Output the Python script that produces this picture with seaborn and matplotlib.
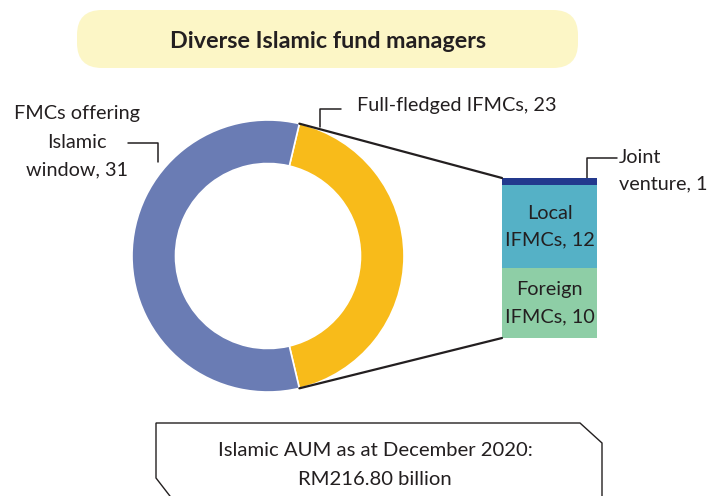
import matplotlib
matplotlib.use("Agg")
import matplotlib.pyplot as plt
import seaborn as sns
import numpy as np
import pandas as pd
from matplotlib.patches import FancyBboxPatch, Polygon, ConnectionPatch

# data
donut_labels = ["Full-fledged IFMCs", "FMCs offering Islamic window"]
donut_values = [23, 31]
bar_labels = ["Foreign IFMCs", "Local IFMCs", "Joint venture"]
bar_values = [10, 12, 1]
title = "Diverse Islamic fund managers"
footer = "Islamic AUM as at December 2020:\nRM216.80 billion"

donut_colors = ["#f8bb1a", "#6a7cb4"]
bar_colors = ["#8ecea6", "#55b1c6", "#23398d"]

sns.set_theme(style="white")
plt.rcParams["font.family"] = ["Lato", "DejaVu Sans"]
TXT = "#231f20"

W, H = 722, 496
fig = plt.figure(figsize=(W / 100, H / 100), dpi=100)


def px_axes(x0, y0, w, h):
    # axes given in pixel coords, y from top
    return fig.add_axes([x0 / W, (H - y0 - h) / H, w / W, h / H])


# overlay for boxes, text and leader lines
over = px_axes(0, 0, W, H)
over.set_xlim(0, W)
over.set_ylim(H, 0)
over.axis("off")

# donut
cx, cy, r = 268, 256, 136
ax_pie = px_axes(cx - r, cy - r, 2 * r, 2 * r)
start = -180 * donut_values[0] / sum(donut_values)
ax_pie.pie(donut_values, colors=donut_colors, startangle=start, counterclock=True,
           radius=1, wedgeprops=dict(width=0.32, edgecolor="white", linewidth=1.2))
ax_pie.set_xlim(-1, 1)
ax_pie.set_ylim(-1, 1)
ax_pie.set_aspect("equal")
ax_pie.axis("off")

# stacked bar (cumulative layers drawn back to front)
ax_bar = px_axes(502, 178, 95, 160)
cum = np.cumsum(bar_values)
for i in range(2, -1, -1):
    sns.barplot(x=["a"], y=[cum[i]], color=bar_colors[i], width=1, ax=ax_bar,
                saturation=1, linewidth=0)
ax_bar.set_xlim(-0.5, 0.5)
ax_bar.set_ylim(0, cum[-1])
ax_bar.axis("off")

# zoom connector lines
ang = np.deg2rad(start + 360 * donut_values[0] / sum(donut_values))
ang0 = np.deg2rad(start)
for a, yb in [(ang, cum[-1]), (ang0, 0)]:
    con = ConnectionPatch(xyA=(np.cos(a), np.sin(a)), coordsA=ax_pie.transData,
                          xyB=(-0.5, yb), coordsB=ax_bar.transData,
                          color="#231f20", lw=1.6)
    fig.add_artist(con)

# bar segment labels
fs = 14.3
ls = 1.68
ax_bar.text(0, bar_values[0] / 2, "Foreign\nIFMCs, 10", ha="center", va="center",
            fontsize=fs, color=TXT, linespacing=ls)
ax_bar.text(0, bar_values[0] + bar_values[1] / 2, "Local\nIFMCs, 12", ha="center",
            va="center", fontsize=fs, color=TXT, linespacing=ls)

# title box
over.add_patch(FancyBboxPatch((77, 10), 501, 58, boxstyle="round,pad=0,rounding_size=25",
                              fc="#fcf6c6", ec="none"))
over.text(328, 41, title, ha="center", va="center", fontsize=16.8, fontweight="bold", color=TXT)

# leader lines
lc = dict(color="#231f20", lw=1.1)
over.plot([128, 158, 158], [143, 143, 162], **lc)
over.plot([320, 320, 341], [127, 109, 109], **lc)
over.plot([587, 587, 617], [178, 158, 158], **lc)

over.text(77, 142, "FMCs offering\nIslamic\nwindow, 31", ha="center", va="center",
          fontsize=fs, color=TXT, linespacing=1.8)
over.text(357, 105, "Full-fledged IFMCs, 23", ha="left", va="center", fontsize=fs, color=TXT)
over.text(619, 171, "Joint\nventure, 1", ha="left", va="center", fontsize=fs, color=TXT,
          linespacing=ls)

# footer box with cut corners
over.add_patch(Polygon([(156, 423), (580, 423), (602, 443), (602, 500), (173, 500),
                        (156, 478)], closed=True, fc="white", ec="#231f20", lw=1.0))
over.text(375, 465, footer, ha="center", va="center", fontsize=14.6, color=TXT, linespacing=1.8)

fig.savefig("out.png", dpi=100)
